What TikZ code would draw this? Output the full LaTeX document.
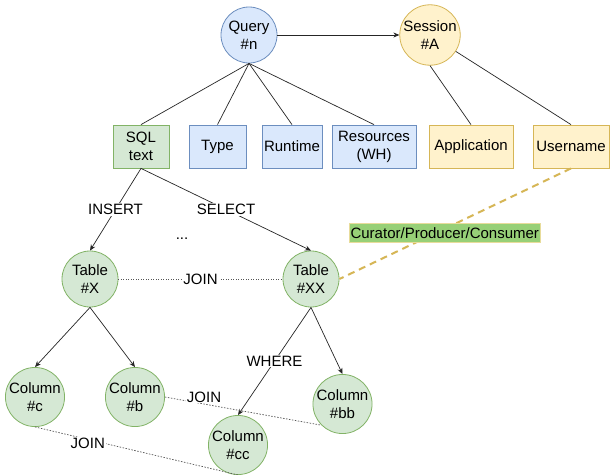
\documentclass[tikz,border=0pt]{standalone}
\usepackage{fontspec}
\setmainfont{Liberation Sans}
\usetikzlibrary{arrows.meta}
\definecolor{bfill}{HTML}{DAE8FC}
\definecolor{bdraw}{HTML}{6C8EBF}
\definecolor{gfill}{HTML}{D5E8D4}
\definecolor{gdraw}{HTML}{82B366}
\definecolor{yfill}{HTML}{FFF2CC}
\definecolor{ydraw}{HTML}{D6B656}
\definecolor{lgreen}{HTML}{97D077}
\definecolor{lborder}{HTML}{E8DC9B}
\definecolor{dotc}{HTML}{555555}
\begin{document}
\begin{tikzpicture}[x=1pt,y=-1pt,
  font=\fontsize{15}{18}\selectfont,
  circ/.style={circle, minimum size=56pt, inner sep=0pt, align=center, line width=0.8pt},
  bx/.style={rectangle, minimum height=43pt, inner sep=0pt, align=center, line width=0.8pt},
  blue/.style={fill=bfill, draw=bdraw},
  green/.style={fill=gfill, draw=gdraw},
  yel/.style={fill=yfill, draw=ydraw},
  edge/.style={line width=0.7pt, draw=black!85},
  arr/.style={edge, -{Stealth[length=6pt,width=5pt]}},
  joinline/.style={line width=0.7pt, draw=dotc, dash pattern=on 1.5pt off 1.5pt},
  lbl/.style={fill=white, inner sep=1pt, text=black, solid},
  rolelbl/.style={fill=lgreen, draw=lborder, solid, text=black, line width=0.8pt, inner sep=1pt, minimum height=19pt},
]
\useasboundingbox (0,0) rectangle (610,474);
\fill[white] (0,0) rectangle (610,474);

% top circles
\node[circ, blue] (q) at (249,35) {Query\\\#n};
\node[circ, yel] (s) at (430,35) {Session\\\#A};

% boxes
\node[bx, green, minimum width=56pt] (sql) at (141,146.5) {SQL\\text};
\node[bx, blue, minimum width=57pt] (type) at (217.5,146.5) {Type};
\node[bx, blue, minimum width=60pt] (rt) at (292,146.5) {Runtime};
\node[bx, blue, minimum width=84pt] (res) at (374,146.5) {Resources\\(WH)};
\node[bx, yel, minimum width=84pt] (app) at (471,146.5) {Application};
\node[bx, yel, minimum width=76pt] (user) at (571,146.5) {Username};

% tables
\node[circ, green] (tx) at (90,279) {Table\\\#X};
\node[circ, green] (txx) at (311,279) {Table\\\#XX};

% columns
\node[circ, green] (cc) at (35,397) {Column\\\#c};
\node[circ, green] (cb) at (135,397) {Column\\\#b};
\node[circ, green] (ccc) at (238,445) {Column\\\#cc};
\node[circ, green] (cbb) at (342.5,404) {Column\\\#bb};

\node (dots) at (182,239) {...};

% connectors
\draw[arr] (q) -- (s);
\draw[edge] (q.south) -- (sql.north);
\draw[edge] (q.south) -- (type.north);
\draw[edge] (q.south) -- (rt.north);
\draw[edge] (q.south) -- (res.north);
\draw[edge] (s.south) -- (app.north);
\draw[edge] (s) -- (user.north);

\draw[arr] (sql.south) -- node[lbl] {INSERT} (tx.north);
\draw[arr] (sql.south) -- node[lbl] {SELECT} (txx.north);

\draw[joinline, dash pattern=on 1pt off 1.5pt] (tx.east) -- node[lbl] {JOIN} (txx.west);

\draw[ydraw, line width=2pt, dash pattern=on 7pt off 5pt] (user.south) -- node[pos=0.545, yshift=-4pt, rolelbl] {Curator/Producer/Consumer} (txx.east);

\draw[arr] (tx.south) -- (cc.north);
\draw[arr] (tx.south) -- (cb.north);
\draw[arr] (txx.south) -- node[lbl] {WHERE} (ccc.north);
\draw[arr] (txx.south) -- (cbb.north);

\draw[joinline] (cb.east) -- node[pos=0.25, yshift=7pt, lbl] {JOIN} (cbb.south west);
\draw[joinline] (cc.south) -- node[pos=0.26, yshift=-4pt, lbl] {JOIN} (ccc.south);
\end{tikzpicture}
\end{document}
